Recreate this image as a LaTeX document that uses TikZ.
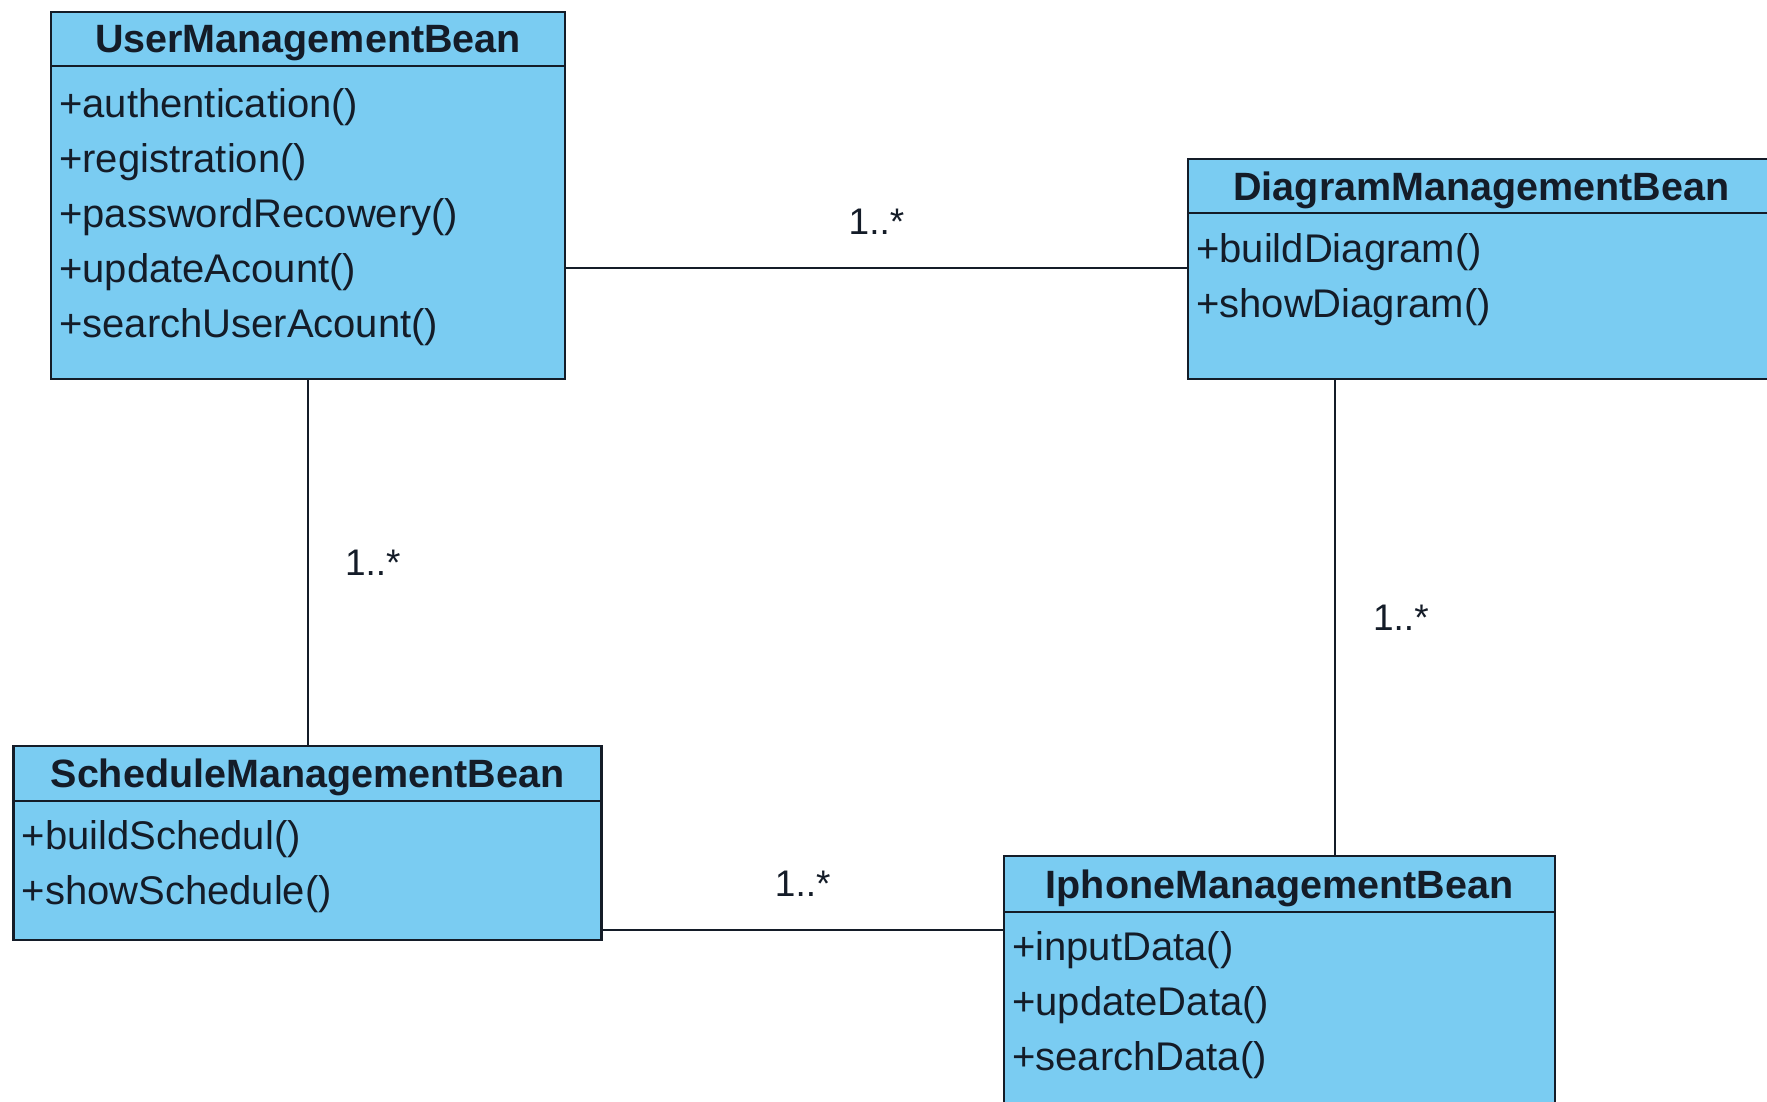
\documentclass[tikz,border=0pt]{standalone}
\usepackage{fontspec}
\setmainfont{Liberation Sans}
\usepackage{xcolor}
\usetikzlibrary{positioning}
\definecolor{beanfill}{RGB}{122,204,242}
\definecolor{beanline}{RGB}{20,28,40}

\begin{document}
\begin{tikzpicture}
	[x=1pt,y=1pt,
	classhead/.style={rectangle,draw=beanline,fill=beanfill,line width=2.5pt,outer sep=0pt,inner sep=0pt,anchor=north west,text depth=0pt,font=\fontsize{39.5}{46}\selectfont\bfseries,text=beanline},
	classbody/.style={rectangle,draw=beanline,fill=beanfill,line width=2.5pt,outer sep=0pt,inner sep=0pt},
	methods/.style={anchor=north west,align=left,inner sep=0pt,font=\fontsize{40}{55}\selectfont,text=beanline},
	mult/.style={inner sep=0pt,font=\fontsize{37}{44}\selectfont,text=beanline},
	assoc/.style={line width=2.2pt,draw=beanline}]
	\useasboundingbox (0,0) rectangle (1767,-1102);
	\fill[white] (0,0) rectangle (1767,-1102);
	% UserManagementBean
	\node [classhead,minimum width=514pt,minimum height=54pt] (userH) at (51,-12) {UserManagementBean};
	\node [classbody,minimum width=514pt,minimum height=313pt,below=0pt of userH] (userB) {};
	\node [methods] (userM) at ([xshift=8pt,yshift=-22pt]userB.north west)
		{+authentication()\\+registration()\\+passwordRecowery()\\+updateAcount()\\+searchUserAcount()};
	% DiagramManagementBean
	\node [classhead,minimum width=587pt,minimum height=54pt] (diagH) at (1188,-159) {DiagramManagementBean};
	\node [classbody,minimum width=587pt,minimum height=166pt,below=0pt of diagH] (diagB) {};
	\node [methods] (diagM) at ([xshift=8pt,yshift=-20pt]diagB.north west)
		{+buildDiagram()\\+showDiagram()};
	% ScheduleManagementBean
	\node [classhead,minimum width=588pt,minimum height=55pt] (schedH) at (13.5,-746) {ScheduleManagementBean};
	\node [classbody,minimum width=588pt,minimum height=139pt,below=0pt of schedH] (schedB) {};
	\node [methods] (schedM) at ([xshift=8pt,yshift=-19pt]schedB.north west)
		{+buildSchedul()\\+showSchedule()};
	% IphoneManagementBean
	\node [classhead,minimum width=551pt,minimum height=56pt] (iphH) at (1004,-856) {IphoneManagementBean};
	\node [classbody,minimum width=551pt,minimum height=213pt,below=0pt of iphH] (iphB) {};
	\node [methods] (iphM) at ([xshift=8pt,yshift=-19pt]iphB.north west)
		{+inputData()\\+updateData()\\+searchData()};
	% associations
	\coordinate (ud) at ([yshift=-45.5pt]userB.east);
	\coordinate (di) at ([xshift=147pt]diagB.south west);
	\coordinate (si) at ([yshift=-59.5pt]schedB.east);
	\draw[assoc] (ud) -- (ud -| diagB.west) node [mult,midway,above=32pt] {1..*};
	\draw[assoc] (userB.south) -- (userB.south |- schedH.north) node [mult,midway,right=36pt] {1..*};
	\draw[assoc] (di) -- (di |- iphH.north) node [mult,midway,right=37pt] {1..*};
	\draw[assoc] (si) -- (si -| iphB.west) node [mult,midway,above=32pt] {1..*};
\end{tikzpicture}
\end{document}
